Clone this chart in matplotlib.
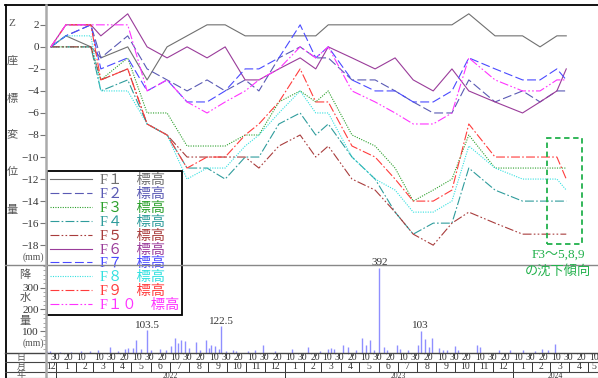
import matplotlib
matplotlib.use("Agg")
import matplotlib.pyplot as plt
import matplotlib.dates as mdates
from matplotlib.lines import Line2D
from matplotlib.ticker import MultipleLocator, FixedLocator
from matplotlib.font_manager import FontProperties
import datetime as dt

CJK = "Noto Sans CJK JP"
SERIF = "Liberation Serif"
plt.rcParams["font.family"] = [SERIF, CJK]

# ---------------- data ----------------
survey_dates = ["2021-12-23", "2022-01-16", "2022-02-25", "2022-03-13", "2022-04-25",
                "2022-05-26", "2022-06-27", "2022-07-29", "2022-08-30", "2022-09-28",
                "2022-10-30", "2022-11-21", "2022-12-23", "2023-01-26", "2023-02-20",
                "2023-03-12", "2023-04-19", "2023-05-26", "2023-06-27", "2023-07-26",
                "2023-08-27", "2023-09-26", "2023-10-23", "2023-12-04", "2024-01-17",
                "2024-02-14", "2024-03-12", "2024-03-27"]

F1 = [0, 1, 0, -1, 0, -3, 0, 1, 2, 2, 1, 1, 1, 1, 1, 2, 2, 2, 2, 2, 2, 2, 3, 1, 1, 0, 1, 1]
F2 = [0, 1, 2, -1, 1, -2, -3, -4, -3, -4, -3, -4, -1, 0, -1, -1, -3, -3, -4, -5, -6, -6, -3, -5, -4, -5, -4, -4]
F3 = [0, 0, 0, -3, -1, -6, -6, -9, -9, -9, -8, -8, -5, -4, -5, -4, -8, -9, -11, -14, -13, -12, -8, -11, -11, -11, -11, -11]
F4 = [0, 0, 0, -4, -3, -7, -8, -11, -11, -12, -10, -10, -7, -6, -8, -7, -10, -12, -15, -17, -16, -16, -11, -13, -14, -14, -14, -14]
F5 = [0, 0, 0, -3, -2, -7, -8, -10, -10, -10, -10, -11, -9, -8, -10, -9, -12, -13, -15, -17, -18, -16, -15, -16, -17, -17, -17, -17]
F6 = [0, 2, 2, 1, 3, 0, -1, 0, -1, 0, -3, -3, -2, -1, -2, 0, -1, -2, -1, -3, -4, -2, -4, -5, -6, -5, -4, -2]
F7 = [0, 1, 2, -2, -1, -4, -3, -5, -5, -4, -2, -2, -1, 2, -1, 0, -3, -4, -4, -5, -5, -4, -1, -2, -3, -3, -2, -3]
F8 = [0, 1, 1, -4, -4, -7, -8, -12, -11, -11, -9, -8, -6, -4, -6, -6, -10, -12, -13, -15, -15, -14, -9, -11, -12, -12, -12, -13]
F9 = [0, 2, 2, -3, -2, -7, -8, -11, -10, -10, -8, -7, -5, -2, -5, -5, -9, -10, -12, -14, -14, -13, -7, -10, -10, -10, -10, -12]
F10 = [0, 2, 2, 2, 2, -4, -3, -5, -6, -5, -4, -3, -2, 0, -1, 0, -4, -5, -6, -7, -7, -6, -1, -3, -4, -4, -3, -3]

series_names = ["F１", "F２", "F３", "F４", "F５", "F６", "F７", "F８", "F９", "F１０"]
series_values = [F1, F2, F3, F4, F5, F6, F7, F8, F9, F10]

rain_dates = ["2021-12-17", "2021-12-22", "2022-01-06", "2022-01-25", "2022-02-10", "2022-02-23",
              "2022-03-08", "2022-03-27", "2022-04-09", "2022-04-20", "2022-04-25", "2022-05-03",
              "2022-05-09", "2022-05-16", "2022-05-26", "2022-06-02", "2022-06-15", "2022-06-25",
              "2022-07-04", "2022-07-09", "2022-07-14", "2022-07-20", "2022-07-25", "2022-08-01",
              "2022-08-12", "2022-08-18", "2022-08-29", "2022-09-02", "2022-09-06", "2022-09-11",
              "2022-09-18", "2022-09-22", "2022-09-29", "2022-10-10", "2022-10-15", "2022-11-03",
              "2022-11-14", "2022-11-27", "2022-12-16", "2023-01-13", "2023-02-07", "2023-02-27",
              "2023-03-11", "2023-03-17", "2023-03-22", "2023-04-04", "2023-04-12", "2023-04-25",
              "2023-05-05", "2023-05-11", "2023-05-18", "2023-05-24", "2023-06-02", "2023-06-09",
              "2023-06-14", "2023-06-30", "2023-07-05", "2023-07-18", "2023-08-03", "2023-08-07",
              "2023-08-14", "2023-08-20", "2023-08-25", "2023-09-05", "2023-09-12", "2023-09-18",
              "2023-10-01", "2023-10-06", "2023-11-05", "2023-11-10", "2023-12-10", "2023-12-28",
              "2024-01-17", "2024-02-06", "2024-02-17", "2024-02-27", "2024-03-09"]
rain_mm = [10, 8, 5, 6, 10, 8,
           12, 28, 10, 18, 22, 25,
           58, 20, 103.5, 15, 20, 12,
           30, 70, 45, 60, 55, 25,
           50, 15, 61, 25, 35, 30,
           20, 122.5, 10, 15, 10, 8,
           12, 35, 8, 20, 28, 8,
           20, 22, 18, 37, 28, 15,
           70, 35, 61, 15, 392, 28,
           15, 35, 20, 12, 35, 103,
           66, 28, 70, 23, 15, 15,
           30, 15, 35, 28, 15, 12,
           12, 10, 20, 12, 40]
rain_labels = {"2022-05-26": "103.5", "2022-09-22": "122.5", "2023-06-02": "392", "2023-08-07": "103"}

# ---------------- styles ----------------
colors = ["#707070", "#5a5ab4", "#2ca02c", "#2f9c9c", "#a83c3c",
          "#9a3c9a", "#4a4aff", "#33e0e0", "#ff3c3c", "#ff33ff"]
styles = ["-", (0, (8, 3)), (0, (1, 1.2)), (0, (8, 2, 1.5, 2)), (0, (8, 2, 1.5, 2, 1.5, 2)),
          "-", (0, (8, 3)), (0, (1, 1.2)), (0, (8, 2, 1.5, 2)), (0, (8, 2, 1.5, 2, 1.5, 2))]

W, H = 598, 378
def fx(px):
    return px / W
def fy(py):
    return 1 - py / H

fig = plt.figure(figsize=(W / 100, H / 100), dpi=100)
fig.patch.set_facecolor("white")

base = mdates.date2num(dt.datetime(2022, 1, 1))
xlo, xhi = base - 16.8, base + 870

ax1 = fig.add_axes([fx(46), fy(265), fx(600) - fx(46), fy(5) - fy(265)])
ax2 = fig.add_axes([fx(46), fy(353), fx(600) - fx(46), fy(265) - fy(353)])
ax3 = fig.add_axes([fx(46), fy(381), fx(600) - fx(46), fy(353) - fy(381)])
for a in (ax1, ax2, ax3):
    a.set_xlim(xlo, xhi)
    a.patch.set_alpha(0)
    for s in ("top", "right", "bottom", "left"):
        a.spines[s].set_visible(False)
    a.set_xticks([])

tick_color = "#333333"
# --- upper panel ---
sd = [mdates.date2num(dt.datetime.strptime(d, "%Y-%m-%d")) for d in survey_dates]
handles = []
for name, vals, c, ls in zip(series_names, series_values, colors, styles):
    ln, = ax1.plot(sd, vals, color=c, ls=ls, lw=0.8, label=name + "　標高")
    handles.append(ln)
ax1.set_ylim(-19.8, 3.8)
ax1.set_yticks(range(-18, 3, 2))
ax1.tick_params(axis="y", length=4, width=0.8, colors="#777777", labelcolor=tick_color,
                labelsize=8, pad=1)
for t in ax1.get_yticklabels():
    t.set_fontfamily(SERIF)

leg = ax1.legend(handles=handles, loc="upper left",
                 bbox_to_anchor=(fx(47), fy(171)), bbox_transform=fig.transFigure,
                 frameon=True, fancybox=False, edgecolor="black", framealpha=1,
                 handlelength=2.9, handletextpad=0.55, labelspacing=0.06, borderpad=0.22,
                 borderaxespad=0, prop=FontProperties(family=[SERIF, CJK], size=10.3),
                 labelcolor="linecolor")
leg.get_frame().set_linewidth(1.3)
leg.set_zorder(10)

# --- precipitation panel ---
rd = [mdates.date2num(dt.datetime.strptime(d, "%Y-%m-%d")) for d in rain_dates]
ax2.vlines(rd, 0, rain_mm, color="#8f8fff", lw=1.0)
ax2.set_ylim(0, 404)
ax2.yaxis.set_major_locator(FixedLocator([100, 200, 300]))
ax2.yaxis.set_minor_locator(MultipleLocator(20))
ax2.tick_params(axis="y", which="major", length=4, width=0.8, colors="#777777",
                labelcolor=tick_color, labelsize=8, pad=1)
ax2.tick_params(axis="y", which="minor", length=2, width=0.6, colors="#999999")
for t in ax2.get_yticklabels():
    t.set_fontfamily(SERIF)
for d, v in zip(rain_dates, rain_mm):
    if d in rain_labels:
        ax2.text(mdates.date2num(dt.datetime.strptime(d, "%Y-%m-%d")), v + 2, rain_labels[d],
                 ha="center", va="bottom", fontsize=8, color="#333333", family=SERIF,
                 clip_on=False)

# --- date table ---
ax3.set_ylim(28, 0)
ax3.set_yticks([])
day_ticks = [dt.datetime(2021, 12, 30), dt.datetime(2022, 1, 20), dt.datetime(2022, 2, 10)]
y, m = 2022, 3
while (y, m) <= (2024, 5):
    days = [10, 30] if m % 2 == 1 else [20]
    for dd in days:
        day_ticks.append(dt.datetime(y, m, dd))
    m += 1
    if m > 12:
        m, y = 1, y + 1
for d in day_ticks:
    xv = mdates.date2num(d)
    if xv > xhi - 4:
        continue
    ax3.text(xv, 5, str(d.day), ha="center", va="center", fontsize=7, color="#333333",
             family=SERIF, clip_on=True)
    ax3.plot([xv, xv], [0, 1.5], color="#555555", lw=0.6)
months = []
y, m = 2021, 12
while (y, m) <= (2024, 6):
    months.append(dt.datetime(y, m, 1))
    m += 1
    if m > 12:
        m, y = 1, y + 1
for a, b in zip(months[:-1], months[1:]):
    xa, xb = mdates.date2num(a), mdates.date2num(b)
    if xa > xlo:
        ax3.plot([xa, xa], [9, 18.5], color="#333333", lw=0.7)
    ca, cb = max(xa, xlo), min(xb, xhi)
    if cb > ca:
        ax3.text((ca + cb) / 2, 13.8, str(a.month), ha="center", va="center", fontsize=7,
                 color="#333333", family=SERIF)
for yr in (2022, 2023, 2024):
    xa = mdates.date2num(dt.datetime(yr, 1, 1))
    xb = mdates.date2num(dt.datetime(yr + 1, 1, 1))
    ax3.plot([xa, xa], [18.5, 28], color="#333333", lw=0.7)
    ca, cb = max(xa, xlo), min(xb, mdates.date2num(dt.datetime(2024, 5, 17)))
    ax3.text((ca + cb) / 2, 22.6, str(yr), ha="center", va="center", fontsize=5.5,
             color="#333333", family=SERIF)

# --- figure-level frame lines ---
def hline(py, x0=5, x1=600, c="#333333", lw=1.0):
    fig.add_artist(Line2D([fx(x0), fx(x1)], [fy(py), fy(py)], color=c, lw=lw))
def vline(px, y0, y1, c="#333333", lw=1.0):
    fig.add_artist(Line2D([fx(px), fx(px)], [fy(y0), fy(y1)], color=c, lw=lw))

hline(5, c="black", lw=1.3)
vline(5.5, 5, 378, c="black", lw=1.3)
hline(265, c="#888888", lw=1.0)
hline(353, c="#444444", lw=1.0)
hline(362, c="#444444", lw=0.8)
hline(371.5, c="#444444", lw=0.8)
hline(377.5, c="#444444", lw=0.8)
vline(46, 5, 378, c="#aaaaaa", lw=1.8)

# --- left-column labels ---
lab_c = "#555555"
for ch, py in zip(["Z", "座", "標", "変", "位", "量"], [23, 61, 99, 134, 172, 210]):
    fig.text(fx(12), fy(py), ch, ha="center", va="center", fontsize=8, color=lab_c,
             family=[SERIF, CJK])
fig.text(fx(33), fy(257), "(mm)", ha="center", va="center", fontsize=7, color=lab_c, family=SERIF)
for ch, py in zip(["降", "水", "量"], [275, 298, 321]):
    fig.text(fx(25), fy(py), ch, ha="center", va="center", fontsize=8, color=lab_c, family=CJK)
fig.text(fx(33), fy(343), "(mm)", ha="center", va="center", fontsize=7, color=lab_c, family=SERIF)
for ch, py in zip(["日", "月", "年"], [357.5, 366.8, 374.8]):
    fig.text(fx(21), fy(py), ch, ha="center", va="center", fontsize=6.5, color=lab_c, family=CJK)

# --- annotation: subsidence trend ---
green = "#22b14c"
fig.add_artist(plt.Rectangle((fx(547), fy(244)), fx(582) - fx(547), fy(138) - fy(244),
                             fill=False, ec=green, lw=1.3, ls=(0, (3, 2))))
fig.text(fx(558), fy(255), "F3～5,8,9", ha="center", va="center", fontsize=9.5, color=green,
         family=[SERIF, CJK])
fig.text(fx(558), fy(271), "の沈下傾向", ha="center", va="center", fontsize=9.5, color=green,
         family=CJK)

fig.savefig("out.png", dpi=100)
